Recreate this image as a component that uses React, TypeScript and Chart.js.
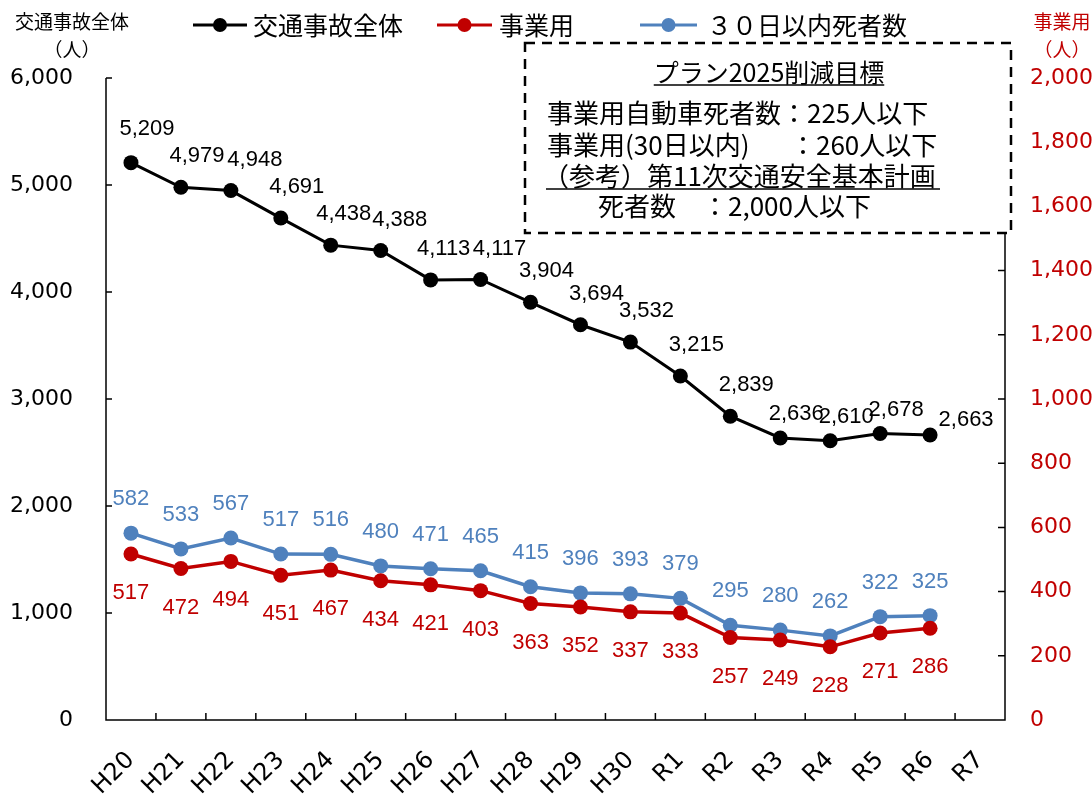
import React, { useEffect, useRef } from "react";
import Chart from "chart.js/auto";

const categories = ["H20","H21","H22","H23","H24","H25","H26","H27","H28","H29","H30","R1","R2","R3","R4","R5","R6","R7"];
const totalDeaths = [5209,4979,4948,4691,4438,4388,4113,4117,3904,3694,3532,3215,2839,2636,2610,2678,2663,null];
const businessDeaths = [517,472,494,451,467,434,421,403,363,352,337,333,257,249,228,271,286,null];
const within30Days = [582,533,567,517,516,480,471,465,415,396,393,379,295,280,262,322,325,null];
const leftTicks = [0,1000,2000,3000,4000,5000,6000];
const rightTicks = [0,200,400,600,800,1000,1200,1400,1600,1800,2000];
const legendLabels = ["交通事故全体","事業用","３０日以内死者数"];
const boxTitle = "プラン2025削減目標";
const boxLine1 = "事業用自動車死者数：225人以下";
const boxLine2a = "事業用(30日以内)";
const boxLine2b = "：260人以下";
const boxLine3 = "（参考）第11次交通安全基本計画";
const boxLine4 = "死者数　：2,000人以下";

const BLACK = "#000000";
const RED = "#C00000";
const BLUE = "#4F81BD";
const JP = '"Noto Sans CJK JP", sans-serif';
const NUM = '"Liberation Sans", Arial, sans-serif';
const AX = '"DejaVu Sans", Verdana, sans-serif';

const fmt = (v: number) => v.toLocaleString("en-US");

export default function App() {
  const ref = useRef<HTMLCanvasElement | null>(null);
  useEffect(() => {
    document.body.style.margin = "0";
    const canvas = ref.current!;
    const decor = {
      id: "decor",
      beforeDatasetsDraw(chart: any) {
        const { ctx, chartArea: a } = chart;
        const yl = chart.scales.yL;
        const yr = chart.scales.yR;
        ctx.save();
        ctx.strokeStyle = "#000";
        ctx.lineWidth = 1.5;
        ctx.beginPath();
        ctx.moveTo(a.left, a.top); ctx.lineTo(a.left, a.bottom); ctx.lineTo(a.right, a.bottom); ctx.lineTo(a.right, a.top);
        for (const t of leftTicks) { const y = yl.getPixelForValue(t); ctx.moveTo(a.left, y); ctx.lineTo(a.left + 6, y); }
        for (const t of rightTicks) { const y = yr.getPixelForValue(t); ctx.moveTo(a.right, y); ctx.lineTo(a.right - 7, y); }
        const n = categories.length;
        const w = (a.right - a.left) / n;
        for (let i = 0; i <= n; i++) { const x = a.left + i * w; ctx.moveTo(x, a.bottom); ctx.lineTo(x, a.bottom - 7); }
        ctx.stroke();
        ctx.restore();
      },
      afterDraw(chart: any) {
        const { ctx } = chart;
        ctx.save();
        // data labels
        ctx.textBaseline = "middle";
        ctx.textAlign = "center";
        ctx.font = `22px ${NUM}`;
        const cfg = [
          { ds: 0, color: BLACK, dx: 16, dy: -31 },
          { ds: 1, color: RED, dx: 0, dy: 39 },
          { ds: 2, color: BLUE, dx: 0, dy: -34 },
        ];
        for (const c of cfg) {
          const meta = chart.getDatasetMeta(c.ds);
          const data = chart.data.datasets[c.ds].data;
          meta.data.forEach((p: any, i: number) => {
            const v = data[i];
            if (v == null) return;
            let dx = c.dx, dy = c.dy;
            if (c.ds === 0 && i === 0) { dy = -34; }
            if (c.ds === 0 && i === 2) { dx = 24; }
            if (c.ds === 0 && (i === 4 || i === 6)) { dx = 13; }
            if (c.ds === 0 && (i === 5 || i === 7)) { dx = 19; }
            if (c.ds === 0 && i === 16) { dx = 36; dy = -15; }
            if (c.ds === 0 && (i === 13 || i === 14 || i === 15)) { dy = -24; }
            ctx.fillStyle = c.color;
            ctx.fillText(fmt(v), p.x + dx, p.y + dy);
          });
        }
        // axis titles
        ctx.font = `19px ${JP}`;
        ctx.fillStyle = BLACK;
        ctx.textAlign = "center";
        ctx.fillText("交通事故全体", 72, 22);
        ctx.fillText("（人）", 72, 50);
        ctx.fillStyle = RED;
        ctx.fillText("事業用", 1062, 22);
        ctx.fillText("（人）", 1062, 50);
        // legend
        const items = [
          { x1: 193, x2: 247, color: BLACK, tx: 253 },
          { x1: 437, x2: 492, color: RED, tx: 499 },
          { x1: 640, x2: 697, color: BLUE, tx: 707 },
        ];
        const ly = 25;
        items.forEach((it, i) => {
          ctx.strokeStyle = it.color;
          ctx.lineWidth = 3;
          ctx.beginPath(); ctx.moveTo(it.x1, ly); ctx.lineTo(it.x2, ly); ctx.stroke();
          ctx.fillStyle = it.color;
          ctx.beginPath(); ctx.arc((it.x1 + it.x2) / 2, ly, 7, 0, Math.PI * 2); ctx.fill();
          ctx.fillStyle = BLACK;
          ctx.textAlign = "left";
          ctx.font = `25px ${JP}`;
          ctx.fillText(legendLabels[i], it.tx, ly);
        });
        // box
        ctx.fillStyle = "#fff";
        ctx.fillRect(525, 43, 486, 190);
        ctx.strokeStyle = "#000";
        ctx.lineWidth = 2.5;
        ctx.setLineDash([10, 7]);
        ctx.strokeRect(525, 43, 486, 190);
        ctx.setLineDash([]);
        ctx.fillStyle = BLACK;
        ctx.font = `25px ${JP}`;
        ctx.textAlign = "center";
        ctx.fillText(boxTitle, 769, 72);
        const tw = ctx.measureText(boxTitle).width;
        ctx.lineWidth = 1.5;
        ctx.beginPath(); ctx.moveTo(769 - tw / 2, 85); ctx.lineTo(769 + tw / 2, 85); ctx.stroke();
        ctx.textAlign = "left";
        ctx.font = `26px ${JP}`;
        ctx.fillText(boxLine1, 547, 113);
        ctx.fillText(boxLine2a, 547, 145);
        ctx.fillText(boxLine2b, 790, 145);
        ctx.fillText(boxLine3, 543, 176);
        const w3 = ctx.measureText(boxLine3).width;
        ctx.beginPath(); ctx.moveTo(546, 189); ctx.lineTo(Math.max(543 + w3, 940), 189); ctx.stroke();
        ctx.fillText(boxLine4, 598, 206);
        ctx.restore();
      },
    };
    const chart = new Chart(canvas, {
      type: "line",
      data: {
        labels: categories,
        datasets: [
          { data: totalDeaths, yAxisID: "yL", borderColor: BLACK, backgroundColor: BLACK, borderWidth: 3, pointRadius: 7.5, pointBackgroundColor: BLACK, pointBorderColor: BLACK, pointBorderWidth: 0 },
          { data: businessDeaths, yAxisID: "yR", borderColor: RED, backgroundColor: RED, borderWidth: 3.5, pointRadius: 7.5, pointBackgroundColor: RED, pointBorderColor: RED, pointBorderWidth: 0 },
          { data: within30Days, yAxisID: "yR", borderColor: BLUE, backgroundColor: BLUE, borderWidth: 3.5, pointRadius: 7.5, pointBackgroundColor: BLUE, pointBorderColor: BLUE, pointBorderWidth: 0 },
        ],
      },
      options: {
        responsive: false,
        animation: false,
        layout: { padding: { top: 78, left: 0, right: 0, bottom: 0 } },
        plugins: { legend: { display: false }, tooltip: { enabled: false } },
        scales: {
          x: {
            type: "category",
            offset: true,
            grid: { display: false, drawTicks: false },
            border: { display: false },
            ticks: { color: BLACK, font: { family: AX, size: 24 }, maxRotation: 45, minRotation: 45, padding: 26, autoSkip: false },
            afterFit: (s: any) => { s.height = 75; },
          },
          yL: {
            position: "left",
            min: 0, max: 6000,
            grid: { display: false, drawTicks: false },
            border: { display: false },
            ticks: { stepSize: 1000, color: BLACK, font: { family: AX, size: 22 }, padding: 33, callback: (v: any) => fmt(Number(v)) },
            afterFit: (s: any) => { s.width = 106; },
          },
          yR: {
            position: "right",
            min: 0, max: 2000,
            grid: { display: false, drawTicks: false },
            border: { display: false },
            ticks: { stepSize: 200, color: RED, font: { family: AX, size: 22 }, padding: 25, callback: (v: any) => fmt(Number(v)) },
            afterFit: (s: any) => { s.width = 87; },
          },
        },
      },
      plugins: [decor],
    } as any);
    return () => chart.destroy();
  }, []);
  return (
    <div style={{ width: 1092, height: 795, position: "relative", background: "#fff" }}>
      <canvas ref={ref} width={1092} height={795} style={{ display: "block" }} />
    </div>
  );
}
